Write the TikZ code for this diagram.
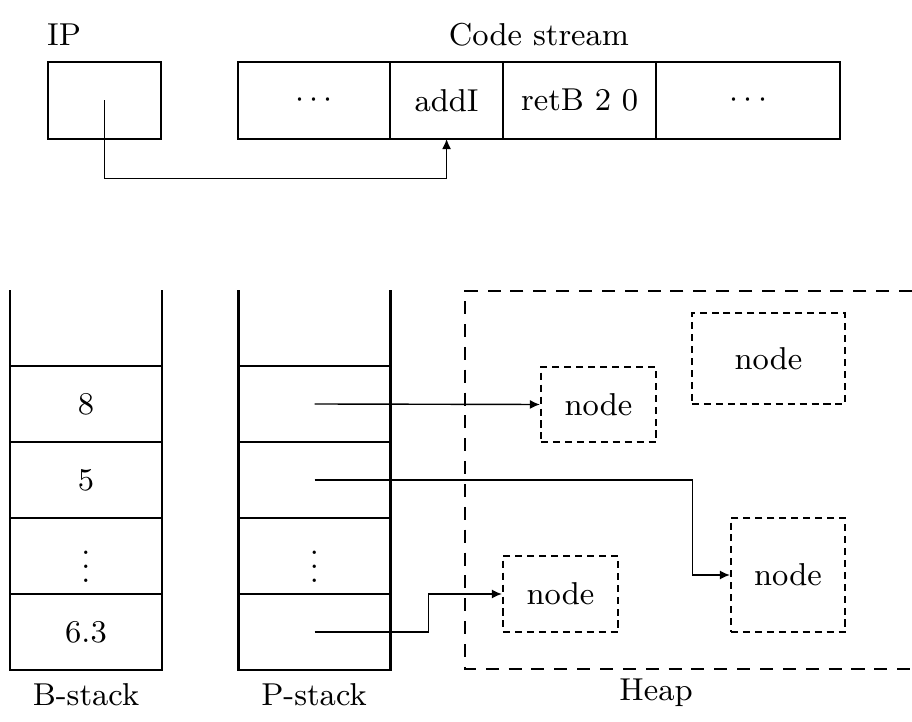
\documentclass[tikz,border=0pt]{standalone}
\usetikzlibrary{arrows.meta,positioning}
\tikzset{
  cell/.style={rectangle, draw, semithick, outer sep=0pt, inner sep=0pt,
               minimum height=0.77cm, font=\small},
  stackcell/.style={cell, minimum width=1.52cm, minimum height=0.76cm},
  heapnode/.style={rectangle, draw, semithick, dash pattern=on 2pt off 1.4pt,
                   inner sep=0pt, font=\small},
  heapframe/.style={semithick, dash pattern=on 3.7pt off 2.8pt},
  ptr/.style={-{Latex[length=1mm,width=0.9mm]}, thin},
  caption/.style={font=\small},
}
\begin{document}
\begin{tikzpicture}[x=0.01cm, y=-0.01cm]
\useasboundingbox (0,0) rectangle (912,722);
% instruction pointer and code stream
\node[caption] (iplbl) at (64,35) {IP};
\node[caption] (cslbl) at (539,35) {Code stream};
\node[cell, minimum width=1.13cm] (ip) at (104.5,100.5) {};
\node[cell, minimum width=1.52cm] (cs1) at (314,100.5) {$\cdots$};
\node[cell, minimum width=1.13cm, right=0pt of cs1] (cs2) {addI};
\node[cell, minimum width=1.53cm, right=0pt of cs2] (cs3) {retB 2 0};
\node[cell, minimum width=1.84cm, right=0pt of cs3] (cs4) {$\cdots$};
\draw[ptr] (ip.center) -- ++(0,78) -| (cs2.south);
% the two stacks
\foreach \v [count=\i] in {8,5,$\vdots$,6.3}
  \node[stackcell] (b\i) at (86,328+76*\i) {\v};
\foreach \v [count=\i] in {{},{},$\vdots$,{}}
  \node[stackcell] (p\i) at (314.5,328+76*\i) {\v};
\foreach \s in {b,p}{
  \draw[semithick] (\s1.north west) -- ++(0,-76);
  \draw[semithick] (\s1.north east) -- ++(0,-76);
}
\node[caption] (blbl) at (86,695) {B-stack};
\node[caption] (plbl) at (314,695) {P-stack};
% heap
\draw[heapframe] (912,291) -- (465,291) -- (465,669) -- (912,669);
\node[caption] (heaplbl) at (656,693) {Heap};
\node[heapnode, minimum width=1.15cm, minimum height=0.75cm] (h1) at (598.5,404.5) {node};
\node[heapnode, minimum width=1.53cm, minimum height=0.91cm] (h2) at (768.5,358.5) {node};
\node[heapnode, minimum width=1.14cm, minimum height=1.14cm] (h3) at (788,575) {node};
\node[heapnode, minimum width=1.15cm, minimum height=0.76cm] (h4) at (560.5,594) {node};
\draw[ptr] (p1.center) -- (h1.west);
\draw[ptr] (p2.center) -- ++(378,0) |- (h3.west);
\draw[ptr] (p4.center) -- ++(114,0) |- (h4.west);
\end{tikzpicture}
\end{document}
